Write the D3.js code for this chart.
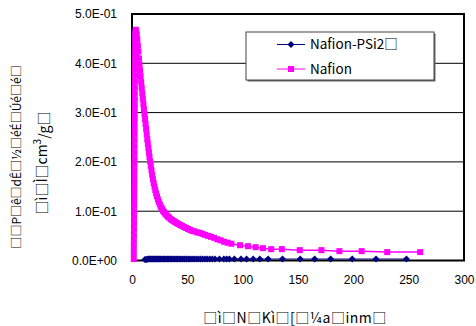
<!DOCTYPE html>
<html><head><meta charset="utf-8">
<script src="https://cdn.jsdelivr.net/npm/d3@7"></script>
<style>
html,body{margin:0;padding:0;background:#fff;}
svg{display:block;}
text{font-family:"Liberation Sans",Arial,sans-serif;}
.cjk{font-family:"Noto Sans CJK JP","DejaVu Sans",sans-serif;}
</style></head>
<body>
<svg id="chart" width="476" height="326"></svg>
<script>
// ---- data ----
const seriesNames = ["Nafion-PSi2\u25A1", "Nafion"];
const yTickValues = [0, 0.1, 0.2, 0.3, 0.4, 0.5];
const yTickLabels = ["0.0E+00", "1.0E-01", "2.0E-01", "3.0E-01", "4.0E-01", "5.0E-01"];
const xTickValues = [0, 50, 100, 150, 200, 250, 300];
const xTickLabels = ["0", "50", "100", "150", "200", "250", "300"];
const yTitle1 = "\u25A1\u25A1P\u25A1\u00EA\u25A1d\u00CA\u25A1\u00BD\u25A1\u00E9\u00C9\u25A1\u00DA\u00E9\u25A1\u00E9\u25A1";
const xTitle = "\u25A1\u00EC\u25A1N\u25A1K\u00EC\u25A1[\u25A1\u00BCa\u25A1inm\u25A1";

// Nafion: rising edge of the peak, then the decay
const nafionX = [1.60, 1.63, 1.66, 1.70, 1.73, 1.77, 1.80, 1.84, 1.87, 1.91, 1.94, 1.98, 2.01, 2.05, 2.08, 2.12, 2.15, 2.19, 2.22, 2.26,
  2.29, 2.33, 2.36, 2.40, 2.43, 2.47, 2.50, 2.54, 2.57, 2.61, 2.64, 2.68, 2.71, 2.75, 2.78, 2.82, 2.86, 2.90, 2.95, 3.0,
  3.4, 3.8, 4.3, 4.8, 5.3, 5.8, 6.3, 6.8, 7.3, 7.8, 8.3, 8.8,
  9.3, 9.8, 10.3, 10.8, 11.3, 11.8, 12.3, 12.8, 13.3, 13.8, 14.3, 14.8, 15.3, 15.8, 16.4, 17.0, 17.6, 18.2, 18.9, 19.6,
  20.3, 21.0, 21.8, 22.6, 23.4, 24.2, 25.1, 26.0, 27.0, 28.0, 29.0, 30.1, 31.2, 32.4, 33.6, 34.9, 36.2, 37.6, 39.0, 40.5,
  42.0, 43.6, 45.3, 47.0, 48.8, 50.7, 52.6, 54.6, 56.7, 58.9, 61.2, 63.6, 66.1, 68.7, 71.4, 74.2, 77.1, 80.1, 83.2, 86.4,
  89.8, 97.6, 104.8, 111.7, 118.3, 125.8, 135.4, 151.6, 171.2, 187.4, 207.5, 230.6, 260.4];
const nafionY = [0.003, 0.015, 0.027, 0.039, 0.051, 0.063, 0.075, 0.087, 0.099, 0.111, 0.123, 0.135, 0.147, 0.159, 0.171, 0.183, 0.195, 0.207, 0.219, 0.231,
  0.243, 0.255, 0.267, 0.279, 0.291, 0.303, 0.315, 0.327, 0.339, 0.351, 0.363, 0.375, 0.387, 0.399, 0.411, 0.423, 0.435, 0.447, 0.456, 0.462,
  0.468, 0.466, 0.458, 0.448, 0.436, 0.424, 0.410, 0.398, 0.386, 0.374, 0.362, 0.350,
  0.339, 0.328, 0.317, 0.307, 0.297, 0.287, 0.277, 0.267, 0.256, 0.246, 0.237, 0.228, 0.219, 0.210, 0.201, 0.192, 0.183, 0.174, 0.165, 0.157,
  0.150, 0.143, 0.136, 0.130, 0.124, 0.119, 0.114, 0.109, 0.105, 0.101, 0.098, 0.095, 0.092, 0.089, 0.087, 0.084, 0.082, 0.080, 0.078, 0.076,
  0.074, 0.072, 0.070, 0.068, 0.066, 0.064, 0.062, 0.060, 0.059, 0.057, 0.056, 0.054, 0.052, 0.050, 0.048, 0.046, 0.043, 0.041, 0.038, 0.036,
  0.034, 0.031, 0.029, 0.027, 0.025, 0.023, 0.023, 0.021, 0.021, 0.019, 0.019, 0.017, 0.017];

const psiX = [11.7, 12.6, 13.5, 14.4, 15.3, 16.2, 17.1, 18.0, 18.9, 19.9, 20.9, 21.9, 22.9, 23.9, 25.0, 26.1, 27.2, 28.3, 29.5, 30.7,
  31.9, 33.1, 34.4, 35.7, 37.0, 38.4, 39.8, 41.2, 42.7, 44.2, 45.8, 47.4, 49.0, 50.7, 52.4, 54.2, 56.0, 57.9, 59.8, 61.8,
  63.8, 65.9, 68.0, 70.2, 72.5, 75.0, 79.0, 83.0, 85.5, 88.0, 92.5, 98.5, 103.5, 109.5, 115.5, 123.0, 136.0, 152.0, 165.0, 179.5,
  199.0, 220.5, 248.0];
const psiY = [0.002, 0.002, 0.002, 0.003, 0.003, 0.003, 0.003, 0.003, 0.003, 0.003, 0.003, 0.003, 0.003, 0.003, 0.003, 0.003, 0.003, 0.003, 0.003, 0.003,
  0.003, 0.003, 0.003, 0.003, 0.003, 0.003, 0.003, 0.003, 0.003, 0.003, 0.003, 0.003, 0.003, 0.003, 0.003, 0.003, 0.003, 0.003, 0.003, 0.003,
  0.003, 0.003, 0.003, 0.003, 0.003, 0.003, 0.003, 0.003, 0.003, 0.003, 0.003, 0.003, 0.003, 0.003, 0.003, 0.003, 0.003, 0.003, 0.003, 0.003,
  0.003, 0.003, 0.003];

// ---- layout ----
const svg = d3.select("#chart");
const L = 132, R = 464, T = 14, B = 260.5;
const x = d3.scaleLinear().domain([0, 300]).range([L, R]);
const y = d3.scaleLinear().domain([0, 0.5]).range([B, T]);

// gridlines
svg.append("g").selectAll("line").data(yTickValues.slice(1, 5)).join("line")
  .attr("x1", L).attr("x2", R).attr("y1", d => y(d)).attr("y2", d => y(d))
  .attr("stroke", "#000").attr("stroke-width", 1);

// frame
svg.append("rect").attr("x", L).attr("y", T).attr("width", R - L).attr("height", B - T)
  .attr("fill", "none").attr("stroke", "#000").attr("stroke-width", 2);

// y axis labels
const yAxis = d3.axisLeft(y).tickValues(yTickValues).tickSize(0).tickPadding(15)
  .tickFormat((d, i) => yTickLabels[i]);
const gy = svg.append("g").attr("transform", `translate(${L},0)`).call(yAxis);
gy.select(".domain").remove();
gy.selectAll("text").attr("font-size", 12).attr("font-family", "Liberation Sans, Arial, sans-serif").attr("fill", "#000");

// x axis labels
const xAxis = d3.axisBottom(x).tickValues(xTickValues).tickSize(0).tickPadding(15)
  .tickFormat((d, i) => xTickLabels[i]);
const gx = svg.append("g").attr("transform", `translate(0,${B})`).call(xAxis);
gx.select(".domain").remove();
gx.selectAll("text").attr("font-size", 12).attr("font-family", "Liberation Sans, Arial, sans-serif").attr("fill", "#000");

const line = d3.line().x(d => x(d[0])).y(d => y(d[1]));
const nafion = nafionX.map((v, i) => [v, nafionY[i]]);
const psi = psiX.map((v, i) => [v, psiY[i]]);

const plot = svg.append("g");
// Nafion
plot.append("path").datum(nafion).attr("d", line).attr("fill", "none")
  .attr("stroke", "#FF00FF").attr("stroke-width", 1.5);
plot.append("g").selectAll("rect").data(nafion).join("rect")
  .attr("x", d => x(d[0]) - 3).attr("y", d => y(d[1]) - 3)
  .attr("width", 6).attr("height", 6).attr("fill", "#FF00FF");
// Nafion-PSi2
plot.append("path").datum(psi).attr("d", line).attr("fill", "none")
  .attr("stroke", "#000080").attr("stroke-width", 1);
plot.append("g").selectAll("path").data(psi).join("path")
  .attr("d", d => { const cx = x(d[0]), cy = y(d[1]), r = 3.5;
    return `M${cx},${cy - r}L${cx + r},${cy}L${cx},${cy + r}L${cx - r},${cy}Z`; })
  .attr("fill", "#000080");

// legend
const lg = svg.append("g");
lg.append("rect").attr("x", 247.5).attr("y", 33.5).attr("width", 188).attr("height", 48).attr("fill", "#666");
lg.append("rect").attr("x", 246).attr("y", 32).attr("width", 188).attr("height", 48)
  .attr("fill", "#fff").attr("stroke", "#444").attr("stroke-width", 1);
const rows = [{name: seriesNames[0], color: "#000080", sym: "diamond", yy: 44.5},
              {name: seriesNames[1], color: "#FF00FF", sym: "square", yy: 69}];
rows.forEach(r => {
  lg.append("line").attr("x1", 277).attr("x2", 305).attr("y1", r.yy).attr("y2", r.yy)
    .attr("stroke", r.color).attr("stroke-width", 1);
  if (r.sym === "diamond") {
    lg.append("path").attr("d", `M291,${r.yy - 3.5}L294.5,${r.yy}L291,${r.yy + 3.5}L287.5,${r.yy}Z`).attr("fill", r.color);
  } else {
    lg.append("rect").attr("x", 288).attr("y", r.yy - 3).attr("width", 6).attr("height", 6).attr("fill", r.color);
  }
  lg.append("text").attr("class", "cjk").attr("x", 310).attr("y", r.yy).attr("dy", "0.36em")
    .attr("font-size", 13.5).attr("fill", "#000").text(r.name);
});

// axis titles
svg.append("text").attr("class", "cjk").attr("transform", "translate(17,157) rotate(-90)")
  .attr("text-anchor", "middle").attr("dy", "0.36em").attr("font-size", 12).attr("fill", "#000")
  .text(yTitle1);
const t2 = svg.append("text").attr("class", "cjk").attr("transform", "translate(42,163) rotate(-90)")
  .attr("text-anchor", "middle").attr("dy", "0.36em").attr("font-size", 14).attr("fill", "#000");
t2.append("tspan").text("\u25A1\u00EC\u25A1\u00CC\u25A1cm");
t2.append("tspan").attr("font-size", 10).attr("dy", "-0.6em").text("3");
t2.append("tspan").attr("dy", "0.6em").text("/g\u25A1");

svg.append("text").attr("class", "cjk").attr("x", 295).attr("y", 318).attr("dy", "0.36em")
  .attr("text-anchor", "middle").attr("font-size", 14).attr("letter-spacing", 0.5).attr("fill", "#000").text(xTitle);
</script>
</body></html>
